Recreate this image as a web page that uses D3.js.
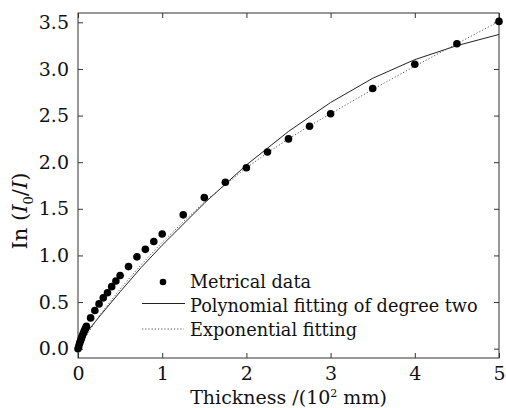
<!DOCTYPE html>
<html><head><meta charset="utf-8">
<script src="https://cdn.jsdelivr.net/npm/d3@7"></script>
<style>
html,body{margin:0;padding:0;background:#fff;}
svg text{font-family:"DejaVu Serif",serif;fill:#111;}
</style></head>
<body><svg id="c" width="506" height="408"></svg>
<script>
// Measured data
const thicknessX = [0,0.01,0.02,0.03,0.04,0.05,0.06,0.07,0.08,0.09,0.1,0.15,0.2,0.25,0.3,0.35,0.4,0.45,0.5,0.6,0.7,0.8,0.9,1.0,1.25,1.5,1.75,2.0,2.25,2.5,2.75,3.0,3.5,4.0,4.5,5.0];
const lnValues   = [0,0.03,0.06,0.085,0.11,0.135,0.16,0.18,0.2,0.22,0.24,0.33,0.41,0.48,0.545,0.6,0.665,0.725,0.785,0.88,0.985,1.065,1.15,1.23,1.435,1.62,1.785,1.94,2.11,2.25,2.385,2.52,2.79,3.05,3.27,3.51];
// Polynomial (degree two) fit
const polyX = [0,0.1,0.25,0.5,0.75,1.0,1.5,2.0,2.5,3.0,3.5,4.0,4.5,5.0];
const polyY = [0.05,0.17,0.34,0.61,0.87,1.11,1.56,1.97,2.33,2.64,2.9,3.1,3.25,3.37];
// Exponential fit
const expX = [0,0.1,0.25,0.5,0.75,1.0,1.25,1.5,1.75,2.0,2.25,2.5,2.75,3.0,3.5,4.0,4.5,5.0];
const expY = [0,0.14,0.35,0.64,0.9,1.14,1.36,1.57,1.76,1.94,2.1,2.25,2.39,2.52,2.78,3.03,3.27,3.51];
const xTicks = [0,1,2,3,4,5];
const yTicks = [0,0.5,1.0,1.5,2.0,2.5,3.0,3.5];
const legendLabels = ["Metrical data","Polynomial fitting of degree two","Exponential fitting"];

const svg = d3.select("#c");
const L=78, R=499, T=13, B=358;
const x = d3.scaleLinear().domain([0,5]).range([L,R]);
const y = d3.scaleLinear().domain([-0.1,3.6]).range([B,T]);

// frame
svg.append("rect").attr("x",L).attr("y",T).attr("width",R-L).attr("height",B-T)
  .attr("fill","none").attr("stroke","#333").attr("stroke-width",1);

const tl=5;
const gx = svg.append("g").attr("transform",`translate(0,${B})`)
  .call(d3.axisBottom(x).tickValues(xTicks).tickFormat(d3.format("d")).tickSizeInner(-tl).tickSizeOuter(0).tickPadding(9));
const gxt = svg.append("g").attr("transform",`translate(0,${T})`)
  .call(d3.axisTop(x).tickValues(xTicks).tickFormat("").tickSizeInner(-tl).tickSizeOuter(0));
const gy = svg.append("g").attr("transform",`translate(${L},0)`)
  .call(d3.axisLeft(y).tickValues(yTicks).tickFormat(d3.format(".1f")).tickSizeInner(-tl).tickSizeOuter(0).tickPadding(9));
const gyr = svg.append("g").attr("transform",`translate(${R},0)`)
  .call(d3.axisRight(y).tickValues(yTicks).tickFormat("").tickSizeInner(-tl).tickSizeOuter(0));
[gx,gxt,gy,gyr].forEach(g=>{
  g.select(".domain").remove();
  g.selectAll(".tick line").attr("stroke","#333");
  g.selectAll("text").style("font-family","DejaVu Serif").style("font-size","19px").attr("fill","#111");
});

// lines
const line = d3.line().x(d=>x(d[0])).y(d=>y(d[1]));
svg.append("path").datum(polyX.map((v,i)=>[v,polyY[i]])).attr("d",line)
  .attr("fill","none").attr("stroke","#222").attr("stroke-width",1);
svg.append("path").datum(expX.map((v,i)=>[v,expY[i]])).attr("d",line)
  .attr("fill","none").attr("stroke","#555").attr("stroke-width",1).attr("stroke-dasharray","1.2,2");

// points
svg.append("g").selectAll("circle").data(thicknessX.map((v,i)=>[v,lnValues[i]])).join("circle")
  .attr("cx",d=>x(d[0])).attr("cy",d=>y(d[1])).attr("r",3.8).attr("fill","#000");

// legend
const lg = svg.append("g");
lg.append("circle").attr("cx",163).attr("cy",282).attr("r",3.3).attr("fill","#000");
lg.append("line").attr("x1",142).attr("x2",185).attr("y1",303.5).attr("y2",303.5).attr("stroke","#222");
lg.append("line").attr("x1",142).attr("x2",184).attr("y1",329).attr("y2",329).attr("stroke","#555").attr("stroke-dasharray","1.2,2");
legendLabels.forEach((t,i)=>{
  lg.append("text").attr("x",190).attr("y",288+i*24).style("font-size","17.7px").text(t);
});

// axis titles
const xt = svg.append("text").attr("x",(L+R)/2).attr("y",404).attr("text-anchor","middle").style("font-size","19px");
xt.append("tspan").text("Thickness /(10");
xt.append("tspan").attr("dy",-7).style("font-size","11px").text("2");
xt.append("tspan").attr("dy",7).text(" mm)");

const yt = svg.append("text").attr("transform","translate(27,211) rotate(-90)").attr("text-anchor","middle").style("font-size","21px");
yt.append("tspan").text("In (");
yt.append("tspan").style("font-style","italic").text("I");
yt.append("tspan").attr("dy",6).style("font-size","13px").text("0");
yt.append("tspan").attr("dy",-6).text("/");
yt.append("tspan").style("font-style","italic").text("I");
yt.append("tspan").text(")");
</script></body></html>
